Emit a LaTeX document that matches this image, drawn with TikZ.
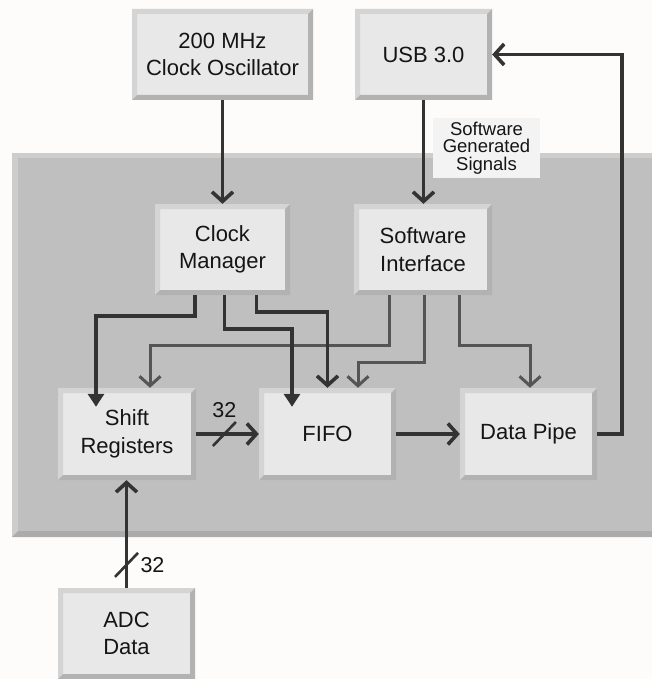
\documentclass[tikz,border=0pt]{standalone}
\usepackage{fontspec}
\setmainfont{Liberation Sans}
\usetikzlibrary{arrows.meta}
\definecolor{pagebg}{HTML}{FDFCFA}
\definecolor{regL}{HTML}{CDCDCD}
\definecolor{regF}{HTML}{BFBFBF}
\definecolor{regD}{HTML}{ABABAB}
\definecolor{boxF}{HTML}{E8E8E8}
\definecolor{boxL}{HTML}{D4D4D4}
\definecolor{boxD}{HTML}{B2B2B2}
\definecolor{dkline}{HTML}{333333}
\definecolor{gyline}{HTML}{555555}
\definecolor{txt}{HTML}{151515}
\definecolor{lblF}{HTML}{F3F3F3}
\begin{document}
\begin{tikzpicture}[x=1pt,y=-1pt,
 blk/.style={fill=boxF, inner sep=0pt, minimum width=137pt, minimum height=91pt, align=center, text=txt, font=\fontsize{22}{27.5}\selectfont,
  path picture={
   \fill[boxL] (path picture bounding box.south west) -- (path picture bounding box.north west) -- (path picture bounding box.north east) -- ([xshift=-5pt,yshift=-5pt]path picture bounding box.north east) -- ([xshift=5pt,yshift=-5pt]path picture bounding box.north west) -- ([xshift=5pt,yshift=5pt]path picture bounding box.south west) -- cycle;
   \fill[boxD] (path picture bounding box.south west) -- (path picture bounding box.south east) -- (path picture bounding box.north east) -- ([xshift=-5pt,yshift=-5pt]path picture bounding box.north east) -- ([xshift=-5pt,yshift=5pt]path picture bounding box.south east) -- ([xshift=5pt,yshift=5pt]path picture bounding box.south west) -- cycle;
  }},
 dk/.style={draw=dkline, line width=3.6pt},
 gy/.style={draw=gyline, line width=3pt},
 barb/.style={-{Straight Barb[length=9.5pt,width=21pt]}},
 tri/.style={-{Triangle[length=13pt,width=16pt]}},
 slash/.style={draw=dkline, line width=2.6pt},
 num/.style={text=txt, font=\fontsize{21.5}{25}\selectfont, inner sep=0pt}
]
\useasboundingbox (0,0) rectangle (652,679);
\fill[pagebg] (0,0) rectangle (652,679);
% gray region
\fill[regL] (12,153) rectangle (660,537);
\fill[regD] (12,537) -- (18,531) -- (660,531) -- (660,537) -- cycle;
\fill[regF] (18,158) rectangle (660,531);

\node[blk, minimum width=181pt] (osc) at (222.5,54.5) {200 MHz\\Clock Oscillator};
\node[blk] (usb) at (423.5,54.5) {USB 3.0};
\node[blk, minimum width=135pt] (cm) at (222.5,249.5) {Clock\\Manager};
\node[blk, minimum width=138pt] (si) at (423,249.5) {Software\\Interface};
\node[blk, minimum width=138pt, minimum height=92pt] (sr) at (127,434) {Shift\\Registers};
\node[blk, minimum height=92pt] (fifo) at (327.5,434) {FIFO};
\node[blk, minimum height=92pt] (dp) at (528.5,434) {Data Pipe};
\node[blk] (adc) at (126.5,633.5) {ADC\\Data};

\node[fill=lblF, minimum width=107pt, minimum height=60pt, inner sep=0pt, align=center, text=txt, font=\fontsize{18.5}{17.3}\selectfont] (sgs) at (486.5,148) {Software\\Generated\\Signals};

% grey control lines
\draw[gy,barb] ([xshift=-34pt]si.south) -- ++(0,50) -| ([xshift=23pt]sr.north);
\draw[gy,barb] ([xshift=1pt]si.south) -- ++(0,67) -| ([xshift=30.5pt]fifo.north);
\draw[gy,barb] ([xshift=36.5pt]si.south) -- ++(0,50) -| ([xshift=1.5pt]dp.north);
% clock lines
\draw[dk,tri] ([xshift=-27.5pt]cm.south) -- ++(0,21) -| ([xshift=-31pt,yshift=-19pt]sr.north);
\draw[dk,tri] ([xshift=2pt]cm.south) -- ++(0,34) -| ([xshift=-35.5pt,yshift=-19pt]fifo.north);
\draw[dk,barb] ([xshift=34pt]cm.south) -- ++(0,17) -| (fifo.north);
% main flow
\draw[dk,barb] (osc.south) -- (cm.north);
\draw[dk,barb] (usb.south) -- (usb.south |- si.north);
\draw[dk,barb] (sr.east) -- coordinate[pos=0.45] (s1) (fifo.west);
\draw[slash] ([shift={(-11.5,12)}]s1) -- ([shift={(11.5,-12)}]s1);
\node[num] (n1) at ([yshift=24pt]s1) {32};
\draw[dk,barb] (fifo.east) -- (dp.west);
\draw[dk,barb] (dp.east) -- ++(25,0) |- (usb.east);
\draw[dk,barb] (adc.north) -- coordinate[pos=0.213] (s2) (adc.north |- sr.south);
\draw[slash] ([shift={(-11.5,12)}]s2) -- ([shift={(11.5,-12)}]s2);
\node[num] (n2) at ([xshift=26pt]s2) {32};
\end{tikzpicture}
\end{document}
